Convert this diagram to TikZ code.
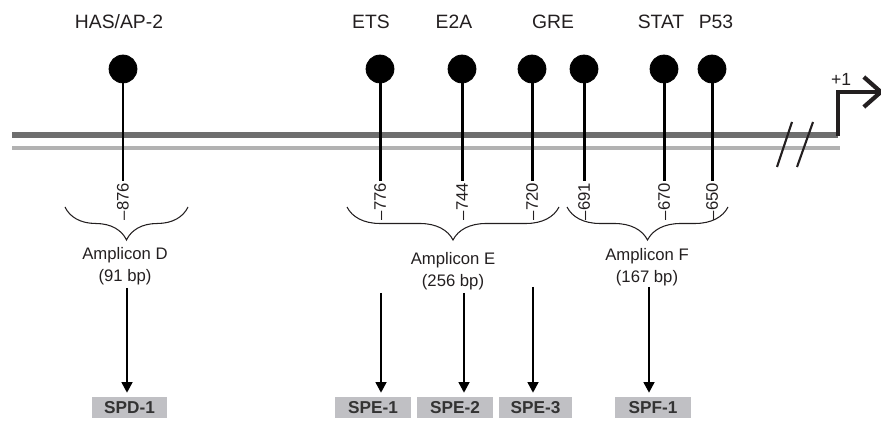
\documentclass[tikz,border=0pt]{standalone}
\usepackage{fontspec}
\setmainfont{Liberation Sans}
\usetikzlibrary{arrows.meta, calc, positioning, decorations.pathreplacing}

\definecolor{dnadark}{HTML}{6E6E6E}
\definecolor{dnalight}{HTML}{B2B2B2}
\definecolor{boxgray}{HTML}{C0C0C4}
\definecolor{inkgray}{HTML}{231F20}

\begin{document}
\begin{tikzpicture}[x=0.02cm, y=-0.02cm, font=\fontsize{9.5}{11}\selectfont, text=inkgray]
  \tikzset{
    site/.style={draw=black, circle, fill=black, minimum size=0.56cm, inner sep=0pt},
    sitelabel/.style={font=\fontsize{11}{13}\selectfont},
    posn/.style={rotate=90, anchor=east, inner sep=1pt},
    stem/.style={line width=1.7pt, draw=black},
    ampbrace/.style={decorate, decoration={brace, mirror, amplitude=0.66cm}, line width=0.6pt, draw=inkgray},
    amplabel/.style={align=center, font=\fontsize{9.5}{12.5}\selectfont},
    probe/.style={fill=boxgray, minimum width=1.52cm, minimum height=0.42cm, inner sep=0pt, font=\bfseries\fontsize{9.8}{11}\selectfont, text=black!80},
    arr/.style={-{Triangle[length=2.1mm, width=2.2mm]}, line width=0.8pt, draw=black, shorten >=0.08cm}
  }
  \useasboundingbox (0,0) rectangle (881,428);

  % DNA strands and promoter
  \draw[dnadark, line width=2.9pt] (12,135) -- (838,135);
  \draw[dnalight, line width=2.4pt] (12,148) -- (840,148);
  \draw[inkgray, line width=1.2pt] (792,122) -- (777,167);
  \draw[inkgray, line width=1.2pt] (813,122) -- (797,167);
  \coordinate (tss) at (838,136.5);
  \coordinate (tssend) at (884,92);
  \draw[inkgray, line width=2.4pt, -{Straight Barb[length=3.4mm, width=6mm]}] (tss) |- (tssend);
  \node[font=\fontsize{10}{12}\selectfont] (plusone) at (841,79) {+1};

  % binding sites
  \node[site] (has) at (123,69) {};
  \node[site] (ets) at (380,69) {};
  \node[site] (e2a) at (462,69) {};
  \node[site] (gre) at (532,69) {};
  \node[site] (gre2) at (584,69) {};
  \node[site] (stat) at (664,69) {};
  \node[site] (p53) at (712,69) {};

  \node[sitelabel] (haslab) at (119,22) {HAS/AP-2};
  \node[sitelabel] (etslab) at (371,22) {ETS};
  \node[sitelabel] (e2alab) at (454,22) {E2A};
  \node[sitelabel] (grelab) at (553,22) {GRE};
  \node[sitelabel] (statlab) at (661,22) {STAT};
  \node[sitelabel] (p53lab) at (716,22) {P53};

  \node[posn] (n876) at (123,181) {--876};
  \node[posn] (n776) at (380,181) {--776};
  \node[posn] (n744) at (462,181) {--744};
  \node[posn] (n720) at (532,181) {--720};
  \node[posn] (n691) at (584,181) {--691};
  \node[posn] (n670) at (664,181) {--670};
  \node[posn] (n650) at (712,181) {--650};

  \draw[stem] (has) -- (n876.east);
  \draw[stem] (ets) -- (n776.east);
  \draw[stem] (e2a) -- (n744.east);
  \draw[stem] (gre) -- (n720.east);
  \draw[stem] (gre2) -- (n691.east);
  \draw[stem] (stat) -- (n670.east);
  \draw[stem] (p53) -- (n650.east);

  % amplicons
  \draw[ampbrace] (65,207) -- (188,207);
  \draw[ampbrace] (347,207) -- (559,207);
  \draw[ampbrace] (567,207) -- (728,207);
  \node[amplabel] (ampD) at (125,266) {Amplicon D\\(91 bp)};
  \node[amplabel] (ampE) at (453,271) {Amplicon E\\(256 bp)};
  \node[amplabel] (ampF) at (647,267) {Amplicon F\\(167 bp)};

  % probes
  \node[probe] (spd1) at (129.5,407.5) {SPD-1};
  \node[probe] (spe1) at (373,407.5) {SPE-1};
  \node[probe] (spe2) at (455,407.5) {SPE-2};
  \node[probe, minimum width=1.46cm] (spe3) at (535.5,407.5) {SPE-3};
  \node[probe] (spf1) at (653,407.5) {SPF-1};

  \coordinate (dtop) at (127,288);
  \coordinate (e1top) at (381,293);
  \coordinate (e2top) at (464,293);
  \coordinate (e3top) at (533,287);
  \coordinate (ftop) at (649,287);
  \draw[arr] (dtop) -- (dtop |- spd1.north);
  \draw[arr] (e1top) -- (e1top |- spe1.north);
  \draw[arr] (e2top) -- (e2top |- spe2.north);
  \draw[arr] (e3top) -- (e3top |- spe3.north);
  \draw[arr] (ftop) -- (ftop |- spf1.north);
\end{tikzpicture}
\end{document}
